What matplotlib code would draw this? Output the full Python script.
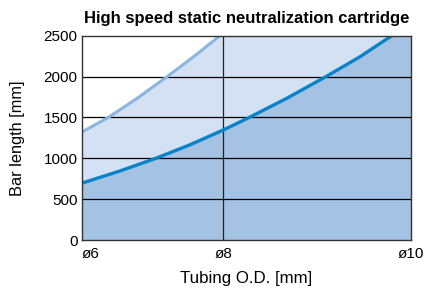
import matplotlib
matplotlib.use("Agg")
import matplotlib.pyplot as plt

plt.rcParams['font.family'] = ['Liberation Sans', 'DejaVu Sans']

# tubing O.D. [mm] vs bar length [mm]
od_high = [6.0, 6.43, 6.855, 7.283, 7.626, 7.961]
len_high = [1320, 1500, 1730, 2000, 2240, 2500]

od_low = [6.0, 6.609, 7.128, 7.583, 8.0, 8.311, 8.736, 9.158, 9.506, 9.819]
len_low = [695, 845, 1000, 1165, 1346, 1500, 1734, 2000, 2243, 2500]

x_ticks = [6, 8, 10]
x_labels = ["ø6", "ø8", "ø10"]
y_ticks = [0, 500, 1000, 1500, 2000, 2500]

P = 2.12

fig = plt.figure(figsize=(4.27, 2.91), dpi=100)
ax = fig.add_axes([81.7 / 427, 1 - 240 / 291, 329 / 427, 204.3 / 291])
ax.set_xscale('function', functions=(lambda x: x ** P, lambda x: x ** (1 / P)))

# shaded regions (extend to right edge at top of axis)
ax.fill_between(od_high + [10], len_high + [2500], 0, color='#d4e1f4', lw=0, zorder=1)
ax.fill_between(od_low + [10], len_low + [2500], 0, color='#a3c2e4', lw=0, zorder=2)

for y in y_ticks[1:-1]:
    ax.axhline(y, color='black', lw=0.9, zorder=3)
ax.axvline(8, color='#222222', lw=0.9, zorder=3)

ax.plot(od_high, len_high, color='#8bb4e0', lw=2.2, zorder=4, solid_capstyle='butt')
ax.plot(od_low, len_low, color='#0a82c8', lw=2.4, zorder=4, solid_capstyle='butt')

ax.set_xlim(6, 10)
ax.set_ylim(0, 2500)
ax.set_xticks(x_ticks)
ax.set_xticklabels(x_labels)
ax.set_yticks(y_ticks)
ax.tick_params(length=0, labelsize=11, pad=3)
ax.tick_params(axis='x', pad=5)
ax.xaxis.get_majorticklabels()[0].set_horizontalalignment('left')
for s in ax.spines.values():
    s.set_color('#333333')
    s.set_linewidth(1.0)
    s.set_zorder(5)

ax.set_xlabel("Tubing O.D. [mm]", fontsize=12.2, labelpad=7)
ax.set_ylabel("Bar length [mm]", fontsize=11.8, labelpad=13)
ax.set_title("High speed static neutralization cartridge", fontsize=12,
             fontweight='bold', pad=9, x=0.5)

fig.savefig("out.png", dpi=100)
